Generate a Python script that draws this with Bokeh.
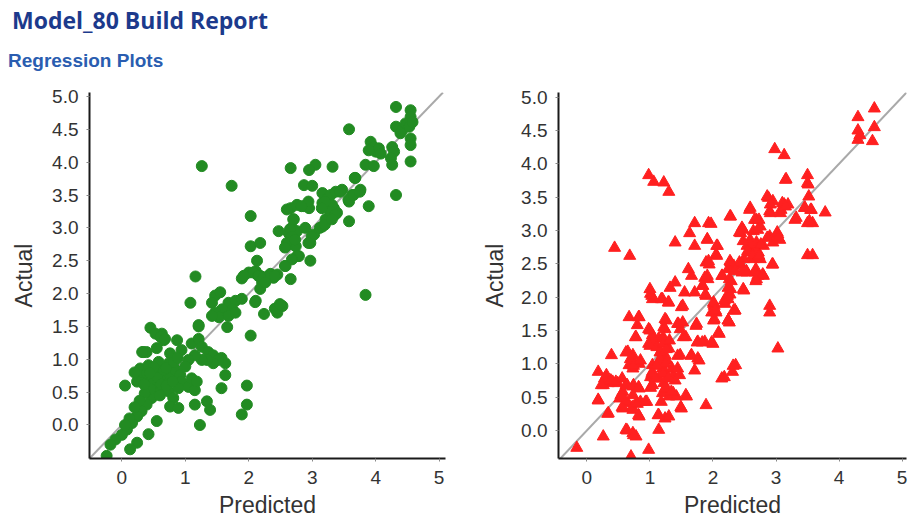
from bokeh.plotting import figure
from bokeh.models import Div, Slope, Range1d, FixedTicker, PrintfTickFormatter
from bokeh.layouts import column, row
from bokeh.embed import file_html
from bokeh.resources import INLINE

TITLE = "Model_80 Build Report"
SUBTITLE = "Regression Plots"
X_LABEL = "Predicted"
Y_LABEL = "Actual"
X_TICKS = [0, 1, 2, 3, 4, 5]
Y_TICKS = [0.0, 0.5, 1.0, 1.5, 2.0, 2.5, 3.0, 3.5, 4.0, 4.5, 5.0]

# (predicted, actual) – training set (green circles)
train_points = [
    (4.32, 4.84), (4.55, 4.79), (4.55, 4.69), (3.58, 4.50), (4.32, 4.54), (4.42, 4.49), (4.47, 4.59),
    (4.53, 4.54), (4.58, 4.61), (4.39, 4.44), (4.55, 4.36), (4.55, 4.26), (4.55, 4.01), (4.32, 3.50),
    (3.92, 4.31), (3.97, 4.23), (4.00, 4.16), (4.05, 4.21), (3.89, 4.18), (4.08, 4.13), (4.26, 4.23),
    (4.29, 4.16), (4.24, 4.06), (4.26, 3.96), (3.84, 3.96), (3.97, 3.94), (3.89, 3.33), (3.84, 1.98),
    (3.58, 3.10), (3.68, 3.76), (3.76, 3.58), (3.63, 3.50), (3.58, 3.40), (3.47, 3.58), (3.32, 3.93),
    (3.05, 3.96), (2.95, 3.88), (2.66, 3.91), (2.87, 3.65), (3.00, 3.64), (3.16, 3.53), (3.24, 3.45),
    (3.29, 3.50), (3.37, 3.55), (3.16, 3.38), (3.26, 3.33), (3.34, 3.30), (3.39, 3.23), (3.32, 3.18),
    (3.21, 3.13), (3.16, 3.02), (2.76, 3.35), (2.87, 3.33), (2.95, 3.30), (2.66, 3.30), (2.71, 3.13),
    (2.68, 3.00), (2.63, 2.92), (2.71, 2.87), (2.76, 2.95), (2.89, 3.00), (3.03, 2.90), (2.97, 2.77),
    (2.47, 2.95), (2.63, 2.75), (2.74, 2.72), (2.79, 2.57), (2.97, 2.50), (2.58, 2.42), (2.66, 2.22),
    (2.03, 3.18), (2.03, 2.72), (2.18, 2.77), (2.13, 2.50), (2.00, 2.32), (2.11, 2.34), (2.18, 2.27),
    (2.26, 2.22), (2.32, 2.27), (2.39, 2.24), (2.21, 2.17), (2.18, 2.07), (2.45, 2.29), (1.89, 2.23),
    (2.11, 1.89), (2.24, 1.69), (2.53, 1.81), (2.45, 1.71), (2.03, 1.36), (1.16, 2.26), (1.08, 1.86),
    (1.47, 1.97), (1.55, 2.02), (1.42, 1.86), (1.68, 1.86), (1.79, 1.89), (1.89, 1.92), (1.74, 1.76),
    (1.63, 1.71), (1.58, 1.76), (1.47, 1.71), (1.53, 1.64), (1.42, 1.66), (1.68, 1.66), (1.66, 1.49),
    (1.79, 1.71), (1.21, 1.50), (1.26, 3.94), (1.73, 3.64),
    (3.44, 3.55), (3.57, 3.43), (3.65, 3.50), (3.67, 3.76), (3.75, 3.55), (2.94, 3.40), (2.83, 3.33),
    (2.60, 3.28), (2.70, 3.13), (2.65, 2.98), (2.68, 2.87), (2.60, 2.77), (2.73, 2.82), (2.99, 2.87),
    (2.94, 2.77), (2.57, 2.70), (2.76, 2.57), (2.68, 2.52), (2.57, 2.42), (2.07, 2.32), (2.15, 2.27),
    (2.23, 2.25), (2.34, 2.30), (2.41, 2.27), (2.26, 2.17), (2.10, 1.87), (2.41, 1.77), (2.49, 1.84),
    (1.92, 2.27), (3.31, 3.35), (3.28, 3.25), (3.36, 3.20), (3.20, 3.40), (3.15, 3.30), (3.12, 3.00),
    (3.20, 3.05), (3.31, 3.13),
    (0.45, 1.48), (0.63, 1.39), (0.66, 1.29), (0.87, 1.29), (1.21, 1.52), (0.34, 1.11), (0.55, 1.17),
    (0.76, 1.09), (0.94, 1.14), (1.10, 1.24), (1.21, 1.31), (1.26, 1.19), (1.36, 1.11), (1.44, 1.06),
    (1.57, 1.02), (1.63, 0.94), (1.63, 0.76), (1.57, 0.56), (1.52, 0.99), (1.44, 0.94), (1.34, 0.99),
    (1.26, 0.99), (1.15, 1.06), (1.05, 0.99), (0.29, 0.86), (0.31, 0.71), (0.39, 0.79), (0.47, 0.71),
    (0.52, 0.63), (0.60, 0.81), (0.68, 0.71), (0.76, 0.76), (0.84, 0.84), (0.92, 0.76), (0.94, 0.66),
    (1.00, 0.89), (0.74, 0.94), (0.58, 0.96), (0.42, 0.91), (0.24, 0.66), (0.05, 0.60), (0.63, 0.56),
    (0.55, 0.48), (0.47, 0.41), (0.39, 0.31), (0.31, 0.21), (0.24, 0.13), (0.16, 0.03), (0.08, -0.07),
    (0.00, -0.15), (-0.10, -0.22), (-0.18, -0.30), (0.74, 0.51), (0.81, 0.41), (0.89, 0.56), (1.05, 0.58),
    (1.10, 0.71), (1.15, 0.53), (1.18, 0.66), (0.76, 0.28), (0.89, 0.26), (1.15, 0.31), (1.34, 0.36),
    (1.39, 0.23), (0.55, 0.06), (0.42, -0.14), (0.24, -0.27), (0.13, -0.37), (-0.24, -0.47), (1.23, 0.00),
    (1.97, 0.60), (1.97, 0.31), (1.89, 0.16), (0.53, 1.39), (0.61, 1.34), (0.68, 1.31), (0.39, 1.11),
    (0.32, 1.11), (0.50, 0.65), (0.56, 0.72), (0.62, 0.62), (0.70, 0.60), (0.66, 0.84), (0.45, 0.55),
    (0.36, 0.48), (0.28, 0.37), (0.20, 0.27), (0.60, 0.45), (0.70, 0.87), (0.82, 0.96), (0.88, 1.02),
    (0.50, 0.88), (0.44, 0.79), (0.80, 0.66), (0.20, 0.80), (0.35, 0.62), (0.12, 0.10), (0.05, 0.00),
]

# (predicted, actual) – test set (red triangles)
test_points = [
    (4.56, 4.83), (4.30, 4.70), (4.30, 4.50), (4.33, 4.43), (4.30, 4.36), (4.56, 4.55), (4.53, 4.34),
    (2.98, 4.22), (3.13, 4.13), (3.16, 3.77), (3.50, 3.83), (3.50, 3.71), (3.52, 3.51), (3.78, 3.27),
    (3.45, 3.34), (3.55, 3.31), (3.50, 3.11), (3.58, 3.11), (3.50, 2.63), (3.58, 2.63), (3.32, 3.19),
    (3.03, 1.23), (2.90, 1.87), (2.90, 1.77), (0.98, 3.83), (1.06, 3.73), (1.22, 3.72), (1.30, 3.58),
    (0.44, 2.74), (0.68, 2.62), (1.40, 2.82), (2.88, 3.49), (2.95, 3.44), (3.13, 3.39), (3.19, 3.39),
    (3.08, 3.31), (2.90, 3.29), (2.59, 3.34), (2.28, 3.21), (1.71, 3.11), (1.97, 3.10), (1.63, 2.96),
    (1.71, 2.77), (1.91, 2.86), (2.07, 2.77), (2.05, 2.64), (2.46, 3.04), (2.44, 2.96), (2.69, 3.16),
    (2.75, 3.06), (2.64, 2.99), (2.59, 2.86), (2.54, 2.77), (2.69, 2.82), (2.80, 2.77), (2.72, 2.67),
    (2.59, 2.67), (2.64, 2.57), (2.75, 2.57), (2.90, 2.91), (3.03, 2.94), (2.95, 2.82), (3.06, 2.86),
    (2.95, 2.49), (2.49, 2.57), (2.44, 2.49), (2.33, 2.47), (2.28, 2.52), (2.46, 2.37), (2.54, 2.37),
    (2.69, 2.27), (2.80, 2.32), (2.66, 2.37), (2.49, 2.10), (2.26, 2.27), (2.15, 2.32), (2.28, 2.12),
    (2.23, 2.02), (2.18, 1.95), (2.02, 1.87), (2.05, 1.77), (2.02, 1.67), (2.33, 1.80), (2.26, 1.62),
    (2.10, 1.45), (2.00, 1.30), (1.87, 1.33), (1.76, 1.33), (1.61, 2.42), (1.66, 2.32), (1.89, 2.52),
    (1.94, 2.49), (1.87, 2.29), (1.92, 2.27), (1.84, 2.17), (1.71, 2.07), (1.89, 2.02), (1.55, 2.07),
    (1.40, 2.22), (1.32, 2.14), (1.20, 1.97), (1.30, 1.92), (1.01, 2.05), (1.04, 1.97), (1.50, 1.85),
    (0.67, 1.70), (0.83, 1.70), (0.80, 1.58), (1.24, 1.67), (1.22, 1.55), (1.45, 1.60), (1.48, 1.52),
    (1.74, 1.60), (0.98, 1.52), (1.04, 1.43), (0.78, 1.40), (1.14, 1.38), (1.24, 1.33), (1.30, 1.23),
    (1.53, 1.40), (0.98, 1.30), (1.09, 1.28), (1.17, 1.18), (1.24, 1.13), (1.27, 1.05), (1.48, 1.13),
    (1.66, 1.13), (1.76, 1.08), (1.71, 0.90), (2.18, 0.80), (2.36, 0.98), (2.31, 0.88), (1.89, 0.38),
    (0.65, 1.18), (0.73, 1.13), (0.75, 1.03), (0.83, 1.00), (0.39, 1.13), (0.67, 0.98), (0.73, 0.93),
    (0.18, 0.88), (0.31, 0.83), (0.34, 0.71), (0.41, 0.73), (0.49, 0.71), (0.26, 0.68), (0.62, 0.68),
    (0.57, 0.58), (0.73, 0.66), (0.83, 0.63), (0.73, 0.53), (0.18, 0.46), (0.34, 0.26), (0.52, 0.48),
    (0.57, 0.33), (0.65, 0.41), (0.73, 0.31), (0.78, 0.41), (0.85, 0.43), (0.83, 0.21), (0.93, 0.43),
    (1.04, 0.98), (1.04, 0.88), (1.01, 0.80), (1.04, 0.68), (1.01, 0.64), (1.14, 1.03), (1.20, 0.93),
    (1.24, 0.88), (1.14, 0.78), (1.22, 0.71), (1.27, 0.61), (1.20, 0.56), (1.30, 0.51), (1.35, 0.93),
    (1.37, 0.83), (1.40, 0.75), (1.37, 0.56), (1.42, 0.51), (1.58, 0.51), (1.50, 0.33), (1.14, 0.23),
    (1.24, 0.18), (1.30, 0.21), (1.14, 0.01), (0.62, 0.01), (0.73, -0.04), (0.78, -0.09), (0.26, -0.09),
    (-0.16, -0.26), (0.98, -0.29), (0.70, -0.39),
    (0.28, 0.78), (0.38, 0.75), (0.46, 0.73), (0.23, 0.68), (0.56, 0.78), (0.64, 0.68), (0.74, 0.68),
    (0.82, 0.65), (0.18, 0.45), (0.33, 0.25), (0.54, 0.53), (0.62, 0.43), (0.72, 0.35), (0.80, 0.40),
    (0.82, 0.23), (0.95, 0.43), (0.56, 0.35), (0.64, 0.00), (0.74, -0.07), (0.82, 1.70), (0.77, 1.40),
    (1.00, 1.50), (1.05, 1.37), (1.00, 1.27), (0.62, 1.17), (0.69, 1.07), (0.74, 0.97), (0.85, 1.05),
    (1.11, 1.25), (1.16, 1.17), (1.21, 1.30), (1.26, 1.22), (1.16, 1.07), (1.24, 1.00), (1.11, 0.97),
    (1.03, 0.85), (1.08, 0.78), (1.03, 0.68), (1.21, 0.85), (1.29, 0.78), (1.24, 0.63), (1.34, 0.58),
    (1.18, 0.43), (1.13, 0.23), (1.44, 0.93), (1.47, 0.83), (1.57, 0.53), (1.49, 0.35), (1.44, 1.12),
    (1.65, 1.12), (1.78, 1.05), (2.32, 0.97), (2.14, 0.78), (1.57, 1.40), (1.52, 1.62), (1.44, 1.60),
    (1.75, 1.32), (1.83, 1.32), (1.98, 1.32), (1.73, 1.57), (2.09, 1.47), (2.01, 1.65), (1.98, 1.77),
    (2.24, 1.65), (2.35, 1.80), (2.01, 1.90), (1.26, 1.65), (1.24, 1.52), (1.21, 1.40), (1.31, 1.35),
    (1.03, 2.02), (1.18, 1.97), (1.29, 1.92), (1.52, 1.87), (1.00, 2.12),
    (2.58, 3.31), (2.27, 3.21), (1.93, 3.11), (2.86, 3.51), (2.91, 3.39), (3.10, 3.41), (3.15, 3.36),
    (2.91, 3.26), (3.07, 3.26), (3.51, 3.69), (3.46, 3.34), (3.56, 3.31), (3.53, 3.14), (3.30, 3.16),
    (2.66, 3.16), (2.73, 3.16), (2.48, 3.01), (2.42, 2.97), (2.71, 3.01), (2.86, 2.89), (3.02, 2.97),
    (3.04, 2.89), (2.48, 2.84), (2.60, 2.79), (2.68, 2.72), (2.55, 2.69), (2.76, 2.79), (2.63, 2.62),
    (2.73, 2.62), (2.94, 2.49), (2.27, 2.54), (2.42, 2.52), (2.06, 2.77), (2.06, 2.62), (1.91, 2.87),
    (1.93, 2.54), (2.24, 2.42), (2.35, 2.39), (2.53, 2.39), (2.68, 2.42), (2.71, 2.32), (2.79, 2.34),
    (2.14, 2.32), (1.91, 2.32), (1.83, 2.17), (2.29, 2.24), (2.24, 2.14), (2.48, 2.12), (2.68, 2.24),
    (2.27, 2.04), (2.24, 1.97), (2.19, 1.90), (2.01, 1.92), (2.04, 1.80), (1.88, 2.04), (2.35, 1.80),
    (2.24, 1.65), (3.15, 3.76),
]

train_pred = [p for p, a in train_points]
train_actual = [a for p, a in train_points]
test_pred = [p for p, a in test_points]
test_actual = [a for p, a in test_points]

FONT = "Liberation Sans"
TEXT_COLOR = "#333333"


def make_plot(xs, ys, width, border_left, border_right, x_rng, y_rng, marker, color, size, label_standoff):
    p = figure(width=width, height=440,
               x_range=Range1d(*x_rng), y_range=Range1d(*y_rng),
               output_backend="svg", toolbar_location=None,
               min_border_left=border_left, min_border_right=border_right,
               min_border_top=12, min_border_bottom=0,
               background_fill_color="white", border_fill_color="white")
    p.outline_line_color = None
    p.grid.visible = False

    p.add_layout(Slope(gradient=1, y_intercept=0, line_color="#a9a9a9",
                       line_width=2, level="underlay"))
    p.scatter(xs, ys, marker=marker, size=size, fill_color=color, line_color=color)

    p.xaxis.ticker = FixedTicker(ticks=X_TICKS)
    p.yaxis.ticker = FixedTicker(ticks=Y_TICKS)
    p.xaxis.formatter = PrintfTickFormatter(format="%d")
    p.yaxis.formatter = PrintfTickFormatter(format="%.1f")
    p.xaxis.axis_label = X_LABEL
    p.yaxis.axis_label = Y_LABEL
    for ax in (p.xaxis, p.yaxis):
        ax.axis_line_color = "#1a1a1a"
        ax.axis_line_width = 2
        ax.major_tick_line_color = "#888888"
        ax.major_tick_out = 3
        ax.major_tick_in = 0
        ax.minor_tick_line_color = None
        ax.major_label_text_font = FONT
        ax.major_label_text_font_size = "19px"
        ax.major_label_text_color = TEXT_COLOR
        ax.axis_label_text_font = FONT
        ax.axis_label_text_font_size = "23px"
        ax.axis_label_text_font_style = "normal"
        ax.axis_label_text_color = TEXT_COLOR
    p.xaxis.major_label_standoff = 9
    p.xaxis.axis_label_standoff = 5
    p.yaxis.major_label_standoff = 8
    p.yaxis.axis_label_standoff = label_standoff
    return p


p1 = make_plot(train_pred, train_actual, 462, 80, 25, (-0.51, 5.1), (-0.51, 5.06),
               "circle", "#228B22", 11, 12)
p2 = make_plot(test_pred, test_actual, 440, 88, 4, (-0.45, 5.07), (-0.42, 5.07),
               "triangle", "#ff2020", 12, 10)

header = Div(
    text=(
        '<div style="position:relative;width:896px;height:72px;">'
        '<div style="position:absolute;left:4px;top:1px;font-family:\'Open Sans\';'
        'font-weight:bold;font-size:23px;line-height:1;color:#1c3a8c;white-space:nowrap;">' + TITLE + '</div>'
        '<div style="position:absolute;left:0px;top:43px;font-family:\'Liberation Sans\';'
        'font-weight:bold;font-size:19px;line-height:1;color:#2a5db0;white-space:nowrap;">' + SUBTITLE + '</div>'
        '</div>'
    ),
    width=896, height=72, margin=(0, 0, 0, 0))

layout = column(header, row(p1, p2, spacing=0), spacing=0, margin=(8, 0, 0, 8))

open("out.html", "w").write(file_html(layout, INLINE))
